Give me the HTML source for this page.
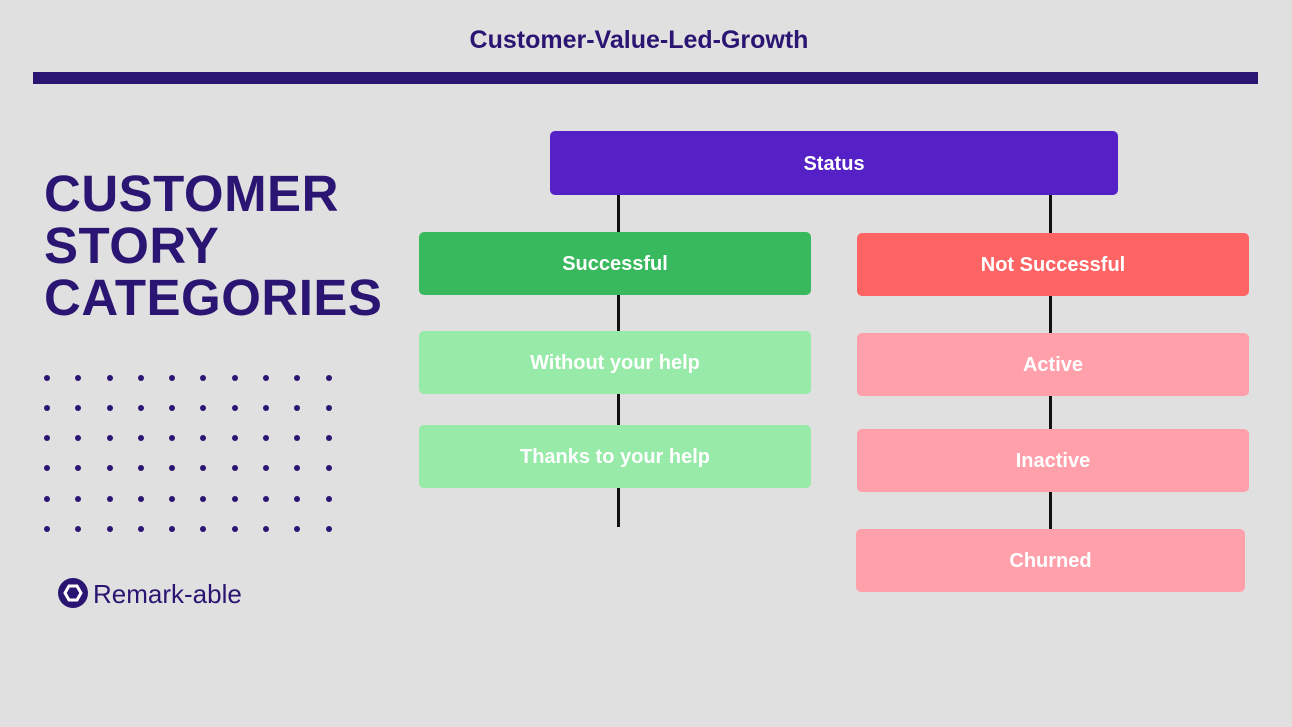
<!DOCTYPE html>
<html><head><style>
body{margin:0;width:1292px;height:727px;background:#e0e0e0;position:relative;overflow:hidden;font-family:"Liberation Sans",sans-serif}
.a{position:absolute}
.b{position:absolute;border-radius:5px;color:#fff;font-weight:bold;font-size:20px;display:flex;align-items:center;justify-content:center;padding-top:2px;box-sizing:border-box}
.l{position:absolute;background:#111;width:3px}
</style></head><body>
<div class="a" style="left:0;width:1278px;top:26px;text-align:center;font-size:25px;font-weight:bold;color:#2b1572">Customer-Value-Led-Growth</div>
<div class="a" style="left:33px;top:72px;width:1225px;height:12px;background:#2b1572"></div>
<div class="a" style="left:44px;top:168px;font-size:51px;line-height:52px;font-weight:bold;color:#2b1572;letter-spacing:0.5px">CUSTOMER<br>STORY<br>CATEGORIES</div>
<svg class="a" style="left:0;top:0" width="400" height="727" fill="#2b1572">
<defs><g id="row"><circle cx="47" cy="378" r="3"/><circle cx="78" cy="378" r="3"/><circle cx="110" cy="378" r="3"/><circle cx="141" cy="378" r="3"/><circle cx="172" cy="378" r="3"/><circle cx="203" cy="378" r="3"/><circle cx="235" cy="378" r="3"/><circle cx="266" cy="378" r="3"/><circle cx="297" cy="378" r="3"/><circle cx="329" cy="378" r="3"/></g></defs>
<use href="#row" y="0"/><use href="#row" y="30"/><use href="#row" y="60"/><use href="#row" y="90"/><use href="#row" y="121"/><use href="#row" y="151"/>
<circle cx="73" cy="593" r="15" fill="#2b1572"/>
<polygon points="65,593 69,586 77,586 81,593 77,600 69,600" fill="#2b1572" stroke="#fff" stroke-width="3"/>
</svg>
<div class="a" style="left:93px;top:579px;font-size:26px;color:#2b1572">Remark-able</div>
<div class="l" style="left:617px;top:195px;height:332px"></div>
<div class="l" style="left:1049px;top:195px;height:397px"></div>
<div class="b" style="left:550px;top:131px;width:568px;height:64px;background:#5520c6">Status</div>
<div class="b" style="left:419px;top:232px;width:392px;height:63px;background:#39b95d">Successful</div>
<div class="b" style="left:419px;top:331px;width:392px;height:63px;background:#97eaa8">Without your help</div>
<div class="b" style="left:419px;top:425px;width:392px;height:63px;background:#97eaa8">Thanks to your help</div>
<div class="b" style="left:857px;top:233px;width:392px;height:63px;background:#ff6464">Not Successful</div>
<div class="b" style="left:857px;top:333px;width:392px;height:63px;background:#ffa0aa">Active</div>
<div class="b" style="left:857px;top:429px;width:392px;height:63px;background:#ffa0aa">Inactive</div>
<div class="b" style="left:856px;top:529px;width:389px;height:63px;background:#ffa0aa">Churned</div>
</body></html>
